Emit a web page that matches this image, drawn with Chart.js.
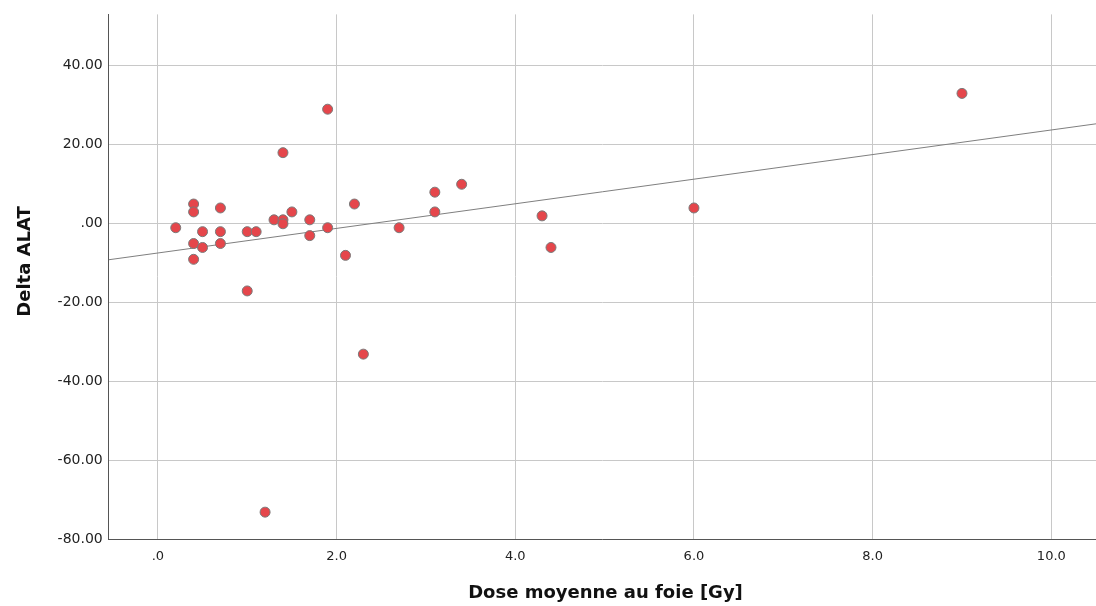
<!DOCTYPE html>
<html>
<head>
<meta charset="utf-8">
<script src="https://cdn.jsdelivr.net/npm/chart.js@4.4.1/dist/chart.umd.min.js"></script>
<style>
    html, body { margin: 0; padding: 0; background: #fff; }
    #wrap { width: 1096px; height: 606px; }
</style>
</head>
<body>
<div id="wrap"><canvas id="grafica-dose-alat" width="1096" height="606"></canvas></div>
<script>
// valeurs
var dose  = [0.2, 0.4, 0.4, 0.4, 0.4, 0.5, 0.5, 0.7, 0.7, 0.7, 1.0, 1.0, 1.1, 1.2, 1.3, 1.4, 1.4, 1.4,
             1.5, 1.7, 1.7, 1.9, 1.9, 2.1, 2.2, 2.3, 2.7, 3.1, 3.1, 3.4, 4.3, 4.4, 6.0, 9.0];
var delta = [-1, 5, 3, -5, -9, -2, -6, 4, -2, -5, -2, -17, -2, -73, 1, 18, 1, 0,
             3, 1, -3, 29, -1, -8, 5, -33, -1, 8, 3, 10, 2, -6, 4, 33];

var xTicks = [0, 2, 4, 6, 8, 10];
var yTicks = [40, 20, 0, -20, -40, -60, -80];
var xMin = -0.55, xMax = 10.5;
var yMin = -80, yMax = 53;

// droite des moindres carres
var n = dose.length, sx = 0, sy = 0, sxx = 0, sxy = 0;
for (var i = 0; i < n; i++) {
    sx += dose[i]; sy += delta[i];
    sxx += dose[i] * dose[i]; sxy += dose[i] * delta[i];
}
var pente = (n * sxy - sx * sy) / (n * sxx - sx * sx);
var origine = (sy - pente * sx) / n;

var points = dose.map(function (d, i) { return {x: d, y: delta[i]}; });
var droite = [
    {x: xMin, y: origine + pente * xMin},
    {x: xMax, y: origine + pente * xMax}
];

function spss(v, dec) {
    var s = Math.abs(v).toFixed(dec);
    if (s.charAt(0) === '0') s = s.substring(1);
    return (v < 0 ? '-' : '') + s;
}

var police = "'DejaVu Sans', 'Liberation Sans', sans-serif";

var ctx = document.getElementById("grafica-dose-alat").getContext("2d");
new Chart(ctx, {
    type: 'scatter',
    data: {
        datasets: [
            {
                label: 'Delta ALAT',
                data: points,
                backgroundColor: '#e5464b',
                borderColor: '#7a7a7a',
                borderWidth: 1,
                pointRadius: 5,
                order: 1
            }, {
                label: 'Ajustement',
                type: 'line',
                data: droite,
                borderColor: '#7f7f7f',
                borderWidth: 1,
                pointRadius: 0,
                fill: false,
                order: 2
            }
        ]
    },
    options: {
        responsive: false,
        animation: false,
        layout: { autoPadding: false, padding: {left: 15, right: 0, top: 14, bottom: 2} },
        plugins: { legend: { display: false }, tooltip: { enabled: false } },
        scales: {
            x: {
                type: 'linear',
                min: xMin,
                max: xMax,
                afterBuildTicks: function (axis) {
                    axis.ticks = xTicks.map(function (v) { return {value: v}; });
                },
                grid: { color: '#c8c8c8', lineWidth: 1, drawTicks: false },
                border: { display: true, color: '#555555', width: 1 },
                ticks: {
                    padding: 9,
                    color: '#222',
                    font: { family: police, size: 13 },
                    callback: function (v) { return spss(v, 1); }
                },
                title: {
                    display: true,
                    text: ' Dose moyenne au foie [Gy]',
                    color: '#111',
                    font: { family: police, size: 18, weight: 'bold' },
                    padding: {top: 9, bottom: 0}
                }
            },
            y: {
                type: 'linear',
                min: yMin,
                max: yMax,
                afterBuildTicks: function (axis) {
                    axis.ticks = yTicks.map(function (v) { return {value: v}; });
                },
                grid: { color: '#c8c8c8', lineWidth: 1, drawTicks: false },
                border: { display: true, color: '#555555', width: 1 },
                ticks: {
                    padding: 6,
                    color: '#222',
                    font: { family: police, size: 14 },
                    callback: function (v) { return spss(v, 2); }
                },
                title: {
                    display: true,
                    // espaces en tete : le titre SPSS est un peu plus haut que le centre de l'axe
                    text: '     Delta ALAT',
                    color: '#111',
                    font: { family: police, size: 18, weight: 'bold' },
                    padding: {top: 0, bottom: 15}
                }
            }
        }
    }
});
</script>
</body>
</html>
